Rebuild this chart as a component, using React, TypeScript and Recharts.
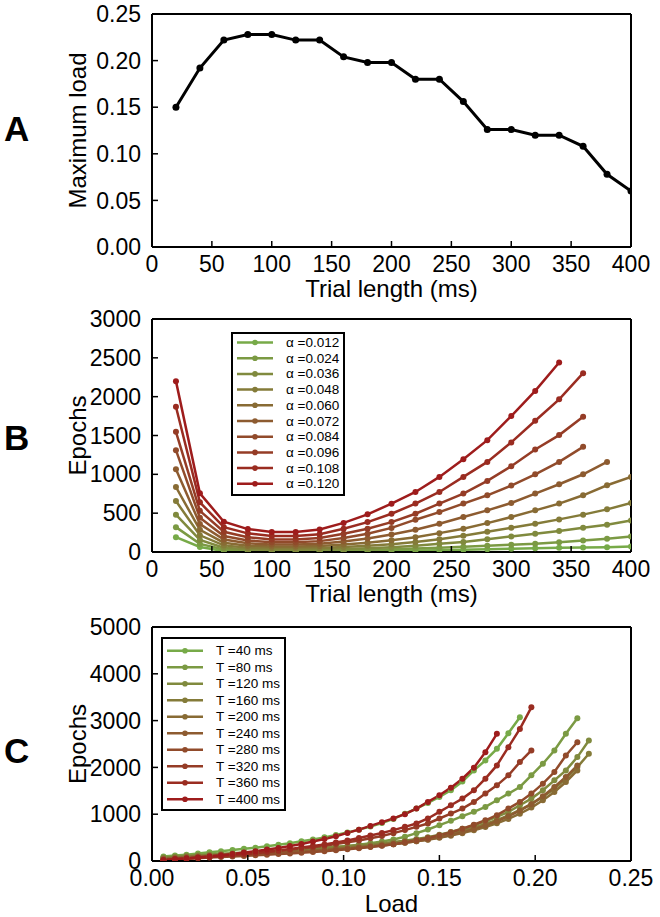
import React from 'react';
import { LineChart, Line, XAxis, YAxis } from 'recharts';

const FONT = '"Liberation Sans", Arial, Helvetica, sans-serif';

// ---- panel A: maximum load vs trial length
const trialLengths = [20, 40, 60, 80, 100, 120, 140, 160, 180, 200, 220, 240, 260, 280, 300, 320, 340, 360, 380, 400];
const maxLoad = [0.150, 0.192, 0.222, 0.228, 0.228, 0.222, 0.222, 0.204, 0.198, 0.198, 0.180, 0.180, 0.156, 0.126, 0.126, 0.120, 0.120, 0.108, 0.078, 0.060];

// ---- panel B: epochs vs trial length, one list per alpha (shorter lists stop early)
const alphaLabels = ['0.012', '0.024', '0.036', '0.048', '0.060', '0.072', '0.084', '0.096', '0.108', '0.120'];
const epochsA012 = [191, 65, 12, 6, 5, 5, 6, 8, 11, 15, 19, 24, 29, 35, 41, 48, 54, 58, 62, 71];
const epochsA024 = [320, 105, 32, 18, 15, 15, 17, 21, 27, 35, 44, 55, 67, 80, 93, 106, 127, 149, 170, 200];
const epochsA036 = [481, 155, 55, 35, 29, 29, 32, 39, 48, 62, 80, 105, 130, 165, 200, 235, 269, 313, 351, 407];
const epochsA048 = [656, 215, 85, 55, 47, 47, 52, 64, 80, 100, 130, 165, 210, 261, 313, 364, 420, 481, 549, 631];
const epochsA060 = [837, 285, 120, 82, 70, 70, 76, 95, 118, 150, 191, 243, 300, 372, 450, 536, 623, 730, 859, 967];
const epochsA072 = [1066, 360, 160, 112, 95, 95, 105, 135, 175, 226, 287, 364, 450, 536, 631, 752, 872, 1001, 1160];
const epochsA084 = [1311, 440, 205, 148, 125, 125, 140, 180, 235, 310, 416, 514, 623, 730, 855, 1001, 1160, 1354];
const epochsA096 = [1548, 530, 260, 190, 162, 162, 180, 235, 300, 385, 493, 623, 752, 915, 1105, 1320, 1505, 1742];
const epochsA108 = [1871, 640, 320, 240, 205, 205, 230, 300, 385, 493, 623, 773, 967, 1160, 1411, 1690, 1966, 2302];
const epochsA120 = [2200, 755, 390, 295, 258, 258, 290, 375, 485, 622, 773, 967, 1195, 1440, 1750, 2074, 2440];
const alphaEpochs = [epochsA012, epochsA024, epochsA036, epochsA048, epochsA060, epochsA072, epochsA084, epochsA096, epochsA108, epochsA120];

// ---- panel C: epochs vs load, one list per trial length T
const loads = [0.006, 0.012, 0.018, 0.024, 0.030, 0.036, 0.042, 0.048, 0.054, 0.060, 0.066, 0.072, 0.078, 0.084, 0.090, 0.096, 0.102, 0.108, 0.114, 0.120, 0.126, 0.132, 0.138, 0.144, 0.150, 0.156, 0.162, 0.168, 0.174, 0.180, 0.186, 0.192, 0.198, 0.204, 0.210, 0.216, 0.222, 0.228];
const tLabels = ['40', '80', '120', '160', '200', '240', '280', '320', '360', '400'];
const epochsT40 = [95, 115, 135, 160, 185, 210, 235, 260, 285, 315, 345, 380, 420, 460, 505, 555, 610, 670, 735, 810, 900, 1010, 1120, 1240, 1370, 1511, 1700, 1936, 2149, 2397, 2730, 3070];
const epochsT80 = [75, 88, 100, 113, 126, 140, 155, 170, 185, 200, 215, 230, 246, 262, 280, 300, 322, 346, 380, 415, 460, 518, 595, 674, 766, 858, 957, 1050, 1156, 1298, 1440, 1582, 1830, 2078, 2362, 2717, 3049];
const epochsT120 = [70, 90, 108, 124, 139, 154, 168, 182, 195, 208, 222, 236, 250, 265, 281, 298, 316, 335, 355, 378, 405, 435, 470, 510, 560, 620, 690, 765, 850, 943, 1050, 1191, 1333, 1511, 1723, 1936, 2220, 2574];
const epochsT160 = [62, 80, 96, 111, 125, 139, 152, 165, 178, 191, 204, 217, 231, 246, 262, 279, 297, 317, 339, 363, 390, 420, 455, 495, 540, 592, 650, 715, 790, 875, 975, 1090, 1220, 1369, 1546, 1759, 2007, 2291];
const epochsT200 = [50, 67, 83, 97, 110, 122, 134, 146, 158, 170, 182, 195, 208, 222, 237, 253, 271, 290, 311, 334, 360, 388, 420, 455, 495, 542, 595, 655, 725, 805, 900, 1010, 1142, 1298, 1475, 1688, 1936];
const epochsT240 = [40, 54, 68, 82, 95, 108, 121, 134, 147, 160, 173, 187, 201, 216, 232, 249, 267, 287, 309, 333, 360, 390, 423, 461, 505, 556, 615, 682, 760, 850, 955, 1075, 1215, 1383, 1582, 1794, 2043];
const epochsT280 = [25, 37, 49, 61, 73, 85, 97, 109, 121, 134, 147, 161, 176, 192, 209, 228, 249, 272, 298, 327, 360, 398, 442, 492, 550, 615, 690, 775, 870, 979, 1120, 1262, 1440, 1652, 1901, 2255, 2538];
const epochsT320 = [22, 38, 54, 70, 87, 105, 124, 144, 165, 188, 212, 238, 266, 296, 328, 362, 400, 440, 485, 535, 595, 660, 730, 801, 908, 1014, 1120, 1262, 1440, 1617, 1830, 2113, 2362];
const epochsT360 = [18, 35, 52, 70, 88, 108, 128, 150, 173, 198, 225, 255, 287, 320, 355, 395, 440, 490, 545, 600, 660, 730, 801, 908, 1050, 1191, 1333, 1511, 1759, 2043, 2432, 2823, 3283];
const epochsT400 = [15, 35, 55, 75, 100, 125, 150, 180, 210, 245, 280, 320, 365, 415, 470, 530, 600, 670, 750, 830, 910, 1000, 1120, 1262, 1404, 1567, 1759, 1993, 2326, 2717];
const tEpochs = [epochsT40, epochsT80, epochsT120, epochsT160, epochsT200, epochsT240, epochsT280, epochsT320, epochsT360, epochsT400];

// ticks
const trialTicks = [0, 50, 100, 150, 200, 250, 300, 350, 400];
const maxLoadTicks = [0, 0.05, 0.1, 0.15, 0.2, 0.25];
const epochTicksB = [0, 500, 1000, 1500, 2000, 2500, 3000];
const loadTicks = [0, 0.05, 0.1, 0.15, 0.2, 0.25];
const epochTicksC = [0, 1000, 2000, 3000, 4000, 5000];

// green -> dark red ramp
const GREEN = [119, 170, 72];
const RED = [158, 28, 28];
const ramp = (i: number, n: number) => {
  const t = n > 1 ? i / (n - 1) : 0;
  const c = GREEN.map((g, k) => Math.round(g + (RED[k] - g) * t));
  return `rgb(${c[0]},${c[1]},${c[2]})`;
};

const spine = { stroke: '#000', strokeWidth: 2 };
const tickMark = { stroke: '#000', strokeWidth: 1.5 };
const tickText = { fill: '#000', fontSize: 23, fontFamily: FONT };
const labelStyle = { fill: '#000', fontSize: 24, fontFamily: FONT };

// matplotlib-like box: inward ticks on all four sides
function frame(opts: {
  xDomain: number[]; xTicks: number[]; yDomain: number[]; yTicks: number[];
  fx: (v: number) => string; fy: (v: number) => string;
  xLabel: string; yLabel: string; xHeight: number; labelOffset: number;
}) {
  return [
    <XAxis key="xb" xAxisId={0} type="number" dataKey="x" domain={opts.xDomain} ticks={opts.xTicks}
      interval={0} height={opts.xHeight} axisLine={spine} tickLine={tickMark} tickSize={-6} tickMargin={15}
      tick={tickText} tickFormatter={opts.fx} allowDataOverflow
      label={{ value: opts.xLabel, position: 'insideBottom', offset: opts.labelOffset, ...labelStyle }} />,
    <XAxis key="xt" xAxisId="t" orientation="top" type="number" domain={opts.xDomain} ticks={opts.xTicks}
      interval={0} height={1} axisLine={spine} tickLine={tickMark} tickSize={-6} tick={false} allowDataOverflow />,
    <YAxis key="yl" yAxisId={0} type="number" domain={opts.yDomain} ticks={opts.yTicks} interval={0}
      width={152} axisLine={spine} tickLine={tickMark} tickSize={-6} tickMargin={17}
      tick={tickText} tickFormatter={opts.fy} allowDataOverflow
      label={{ value: opts.yLabel, angle: -90, position: 'center', dx: 1, ...labelStyle }} />,
    <YAxis key="yr" yAxisId="r" orientation="right" type="number" domain={opts.yDomain} ticks={opts.yTicks}
      interval={0} width={1} axisLine={spine} tickLine={tickMark} tickSize={-6} tick={false} allowDataOverflow />,
  ];
}

function KeyBox({ left, top, width, height, rowStart, rowStep, fontSize, labels }: {
  left: number; top: number; width: number; height: number; rowStart: number; rowStep: number; fontSize: number; labels: string[];
}) {
  return (
    <svg style={{ position: 'absolute', left, top }} width={width} height={height}>
      <rect x={1} y={1} width={width - 2} height={height - 2} fill="#fff" stroke="#000" strokeWidth={2} />
      {labels.map((lab, i) => {
        const y = rowStart + i * rowStep;
        const c = ramp(i, labels.length);
        return (
          <g key={lab}>
            <line x1={6} x2={42} y1={y} y2={y} stroke={c} strokeWidth={2.5} />
            <circle cx={24} cy={y} r={2.8} fill={c} />
            <text x={55} y={y} dominantBaseline="central" fontSize={fontSize} fontFamily={FONT} fill="#000">{lab}</text>
          </g>
        );
      })}
    </svg>
  );
}

const PanelLetter = ({ text, top }: { text: string; top: number }) => (
  <div style={{ position: 'absolute', left: 4, top, fontFamily: FONT, fontWeight: 'bold', fontSize: 35, lineHeight: '35px', color: '#000' }}>
    {text}
  </div>
);

const App: React.FC = () => {
  const dataA = trialLengths.map((x, i) => ({ x, y: maxLoad[i] }));
  const seriesB = alphaEpochs.map(vals => vals.map((y, j) => ({ x: trialLengths[j], y })));
  const seriesC = tEpochs.map(vals => vals.map((y, j) => ({ x: loads[j], y })));

  return (
    <div style={{ position: 'absolute', left: 0, top: 0, width: 660, height: 917, background: '#fff' }}>
      <div style={{ position: 'absolute', left: 0, top: 0 }}>
        <LineChart width={660} height={306} margin={{ top: 13, right: 28, bottom: 0, left: 0 }}>
          {frame({
            xDomain: [0, 400], xTicks: trialTicks, yDomain: [0, 0.25], yTicks: maxLoadTicks,
            fx: v => String(v), fy: v => v.toFixed(2), xLabel: 'Trial length (ms)', yLabel: 'Maximum load',
            xHeight: 59, labelOffset: 9,
          })}
          <Line data={dataA} dataKey="y" xAxisId={0} yAxisId={0} type="linear" stroke="#000" strokeWidth={3}
            dot={{ r: 3.5, fill: '#000', stroke: '#000', strokeWidth: 0 }} activeDot={false} isAnimationActive={false} />
        </LineChart>
      </div>

      <div style={{ position: 'absolute', left: 0, top: 300 }}>
        <LineChart width={660} height={310} margin={{ top: 18, right: 28, bottom: 0, left: 0 }}>
          {frame({
            xDomain: [0, 400], xTicks: trialTicks, yDomain: [0, 3000], yTicks: epochTicksB,
            fx: v => String(v), fy: v => String(v), xLabel: 'Trial length (ms)', yLabel: 'Epochs',
            xHeight: 58, labelOffset: 8,
          })}
          {seriesB.map((d, i) => (
            <Line key={alphaLabels[i]} data={d} dataKey="y" xAxisId={0} yAxisId={0} type="linear"
              stroke={ramp(i, seriesB.length)} strokeWidth={2.5}
              dot={{ r: 3, fill: ramp(i, seriesB.length), stroke: 'none' }} activeDot={false} isAnimationActive={false} />
          ))}
        </LineChart>
      </div>

      <div style={{ position: 'absolute', left: 0, top: 610 }}>
        <LineChart width={660} height={307} margin={{ top: 16, right: 28, bottom: 0, left: 0 }}>
          {frame({
            xDomain: [0, 0.25], xTicks: loadTicks, yDomain: [0, 5000], yTicks: epochTicksC,
            fx: v => v.toFixed(2), fy: v => String(v), xLabel: 'Load', yLabel: 'Epochs',
            xHeight: 56, labelOffset: 5,
          })}
          {seriesC.map((d, i) => (
            <Line key={tLabels[i]} data={d} dataKey="y" xAxisId={0} yAxisId={0} type="linear"
              stroke={ramp(i, seriesC.length)} strokeWidth={2.5}
              dot={{ r: 3, fill: ramp(i, seriesC.length), stroke: 'none' }} activeDot={false} isAnimationActive={false} />
          ))}
        </LineChart>
      </div>

      <KeyBox left={231} top={332} width={114} height={164} rowStart={10.5} rowStep={15.7} fontSize={13.5}
        labels={alphaLabels.map(a => `\u03b1 =${a}`)} />
      <KeyBox left={161} top={637} width={125} height={174} rowStart={13.7} rowStep={16.5} fontSize={13.5}
        labels={tLabels.map(t => `T =${t} ms`)} />

      <PanelLetter text="A" top={111} />
      <PanelLetter text="B" top={420} />
      <PanelLetter text="C" top={733} />
    </div>
  );
};

export default App;
